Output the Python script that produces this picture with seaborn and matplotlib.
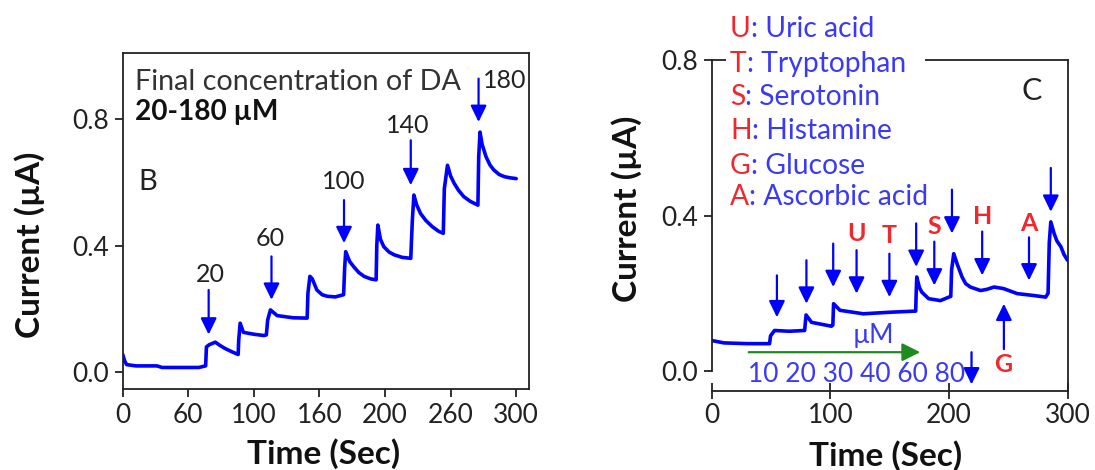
import matplotlib
matplotlib.use("Agg")
import matplotlib.pyplot as plt
from matplotlib.patches import Rectangle
import pandas as pd
import seaborn as sns

# ---- Panel B: dopamine additions (20-180 uM) ----
time_b = [0, 1.5, 3, 10, 26, 30, 58, 63.2, 63.8, 66, 70.6, 74, 78, 83, 88.0, 88.4,
          89.5, 92, 100, 107.5, 109.5, 110.5, 112.6, 117.7, 130, 140.6, 141.2, 142.7,
          144.5, 148, 152, 156, 162, 168.4, 169.2, 170, 173, 176, 180, 184, 189,
          193.2, 193.7, 194.5, 196.5, 199, 203, 207, 213, 219.6, 220.8, 222, 224,
          227, 231, 236, 241, 244.4, 245.2, 247.6, 250, 252.7, 256, 260, 265, 270.8,
          271.4, 272.4, 274, 277, 280, 283, 287, 291, 296, 300]
current_b = [0.056, 0.035, 0.024, 0.020, 0.020, 0.015, 0.015, 0.020, 0.080, 0.087,
             0.095, 0.085, 0.075, 0.065, 0.056, 0.100, 0.155, 0.126, 0.120, 0.116,
             0.118, 0.165, 0.197, 0.179, 0.172, 0.171, 0.250, 0.303, 0.295, 0.260,
             0.245, 0.240, 0.238, 0.245, 0.330, 0.381, 0.350, 0.334, 0.315, 0.303,
             0.295, 0.292, 0.400, 0.465, 0.420, 0.397, 0.380, 0.371, 0.363, 0.360,
             0.480, 0.560, 0.530, 0.502, 0.480, 0.460, 0.445, 0.439, 0.580, 0.654,
             0.620, 0.597, 0.575, 0.555, 0.540, 0.528, 0.680, 0.759, 0.720, 0.681,
             0.655, 0.639, 0.625, 0.618, 0.614, 0.612]
arrow_b_labels = ["20", "60", "100", "140", "180"]
arrow_b_x = [65.5, 113.4, 168.7, 219.6, 271.3]
arrow_b_top = [0.260, 0.366, 0.544, 0.733, 0.928]
arrow_b_tip = [0.119, 0.229, 0.408, 0.591, 0.791]
arrow_b_label_x = [66.8, 112.6, 168.7, 217.6, 291.0]
arrow_b_label_y = [0.308, 0.423, 0.602, 0.780, 0.922]
ticks_b = [0, 50, 100, 150, 200, 250, 300]
tick_labels_b = ["0", "60", "100", "160", "200", "260", "300"]

# ---- Panel C: selectivity test with interferents ----
time_c = [0, 10, 30, 48.6, 49.4, 52.8, 65, 78.2, 78.8, 79.4, 84, 100.8, 102.0, 102.6,
          108, 127.7, 150, 171.9, 172.3, 172.8, 175, 177, 182.8, 192.7, 201.5, 202.2,
          204, 206.8, 211, 214, 218, 226.6, 232, 237.9, 246, 257.6, 271.8, 281.6,
          283.6, 284.6, 285.9, 288.7, 291, 294.4, 297, 300]
current_c = [0.078, 0.072, 0.070, 0.070, 0.090, 0.104, 0.102, 0.104, 0.125, 0.144,
             0.125, 0.115, 0.118, 0.173, 0.156, 0.147, 0.151, 0.154, 0.200, 0.242,
             0.215, 0.203, 0.186, 0.181, 0.192, 0.260, 0.302, 0.276, 0.242, 0.225,
             0.216, 0.207, 0.210, 0.216, 0.212, 0.199, 0.194, 0.190, 0.200, 0.330,
             0.384, 0.354, 0.335, 0.320, 0.300, 0.285]
arrow_c_x = [54.8, 79.7, 102.3, 122.0, 149.7, 172.3, 187.6, 202.5, 228.0, 267.5, 285.9, 219.0, 246.3]
arrow_c_start = [0.246, 0.285, 0.328, 0.311, 0.302, 0.380, 0.333, 0.467, 0.359, 0.344, 0.523, 0.048, 0.056]
arrow_c_tip = [0.138, 0.173, 0.216, 0.199, 0.190, 0.268, 0.220, 0.354, 0.246, 0.233, 0.410, -0.035, 0.173]
species_letters = ["U", "T", "S", "H", "A", "G"]
species_x = [122.0, 149.7, 187.6, 228.0, 267.5, 245.5]
species_y = [0.354, 0.350, 0.373, 0.397, 0.380, 0.017]
legend_letters = ["U", "T", "S", "H", "G", "A"]
legend_names = [": Uric acid", ": Tryptophan", ": Serotonin", ": Histamine",
                ": Glucose", ": Ascorbic acid"]
legend_y = [0.882, 0.791, 0.705, 0.619, 0.529, 0.447]
conc_steps = "10 20 30 40 60 80"

BLUE = "#0000ff"
TEXT_BLUE = "#3a3af5"
RED = "#f0282d"
GREEN = "#1f8a1f"

sns.set_theme(style="ticks")
plt.rcParams["font.family"] = ["Lato", "DejaVu Sans"]
plt.rcParams["axes.linewidth"] = 1.3
plt.rcParams["axes.edgecolor"] = "#222222"

fig = plt.figure(figsize=(10.95, 4.7), dpi=100)
ax_b = fig.add_axes([0.1121, 0.1717, 0.3713, 0.7149])
ax_c = fig.add_axes([0.6502, 0.1681, 0.3247, 0.7032])

tick_fs = 19
label_fs = 24


def down_arrow(ax, x, y0, y1, color=BLUE):
    ax.annotate("", xy=(x, y1), xytext=(x, y0),
                arrowprops=dict(arrowstyle="-|>,head_length=0.45,head_width=0.22",
                                color=color, lw=1.6, mutation_scale=22,
                                shrinkA=0, shrinkB=0),
                annotation_clip=False)


# ---- Panel B ----
df_b = pd.DataFrame({"Time": time_b, "Current": current_b})
sns.lineplot(data=df_b, x="Time", y="Current", ax=ax_b, color=BLUE, lw=2.6,
             estimator=None, sort=False)
ax_b.set_xlim(0, 310)
ax_b.set_ylim(-0.054, 1.008)
ax_b.set_xticks(ticks_b)
ax_b.set_xticklabels(tick_labels_b)
ax_b.set_yticks([0.0, 0.4, 0.8])
ax_b.set_yticklabels(["0.0", "0.4", "0.8"])
ax_b.tick_params(direction="out", length=6, width=1.3, labelsize=tick_fs,
                 colors="#222222", pad=4)
for s in ax_b.spines.values():
    s.set_visible(True)

for lab, x, y0, y1, lx, ly in zip(arrow_b_labels, arrow_b_x, arrow_b_top, arrow_b_tip,
                                   arrow_b_label_x, arrow_b_label_y):
    down_arrow(ax_b, x, y0, y1)
    ax_b.text(lx, ly, lab, ha="center", va="center", fontsize=18, color="#222222")

ax_b.text(9.4, 0.917, "Final concentration of DA", ha="left", va="center",
          fontsize=20.7, color="#333333")
ax_b.text(9.4, 0.822, "20-180 µM", ha="left", va="center", fontsize=20.2,
          fontweight="bold", color="#111111")
ax_b.text(19, 0.60, "B", ha="center", va="center", fontsize=21, color="#222222")

ax_b.set_xlabel("Time (Sec)", fontsize=label_fs, fontweight="bold", color="#111111")
ax_b.set_ylabel("Current (µA)", fontsize=label_fs, fontweight="bold", color="#111111")
ax_b.xaxis.set_label_coords(0.493, -0.19)
ax_b.yaxis.set_label_coords(-0.230, 0.43)
ax_b.xaxis.label.set_va("center")
ax_b.yaxis.label.set_va("center")

# ---- Panel C ----
df_c = pd.DataFrame({"Time": time_c, "Current": current_c})
sns.lineplot(data=df_c, x="Time", y="Current", ax=ax_c, color=BLUE, lw=2.6,
             estimator=None, sort=False)
ax_c.set_xlim(0, 300)
ax_c.set_ylim(-0.052, 0.8)
ax_c.set_xticks([0, 100, 200, 300])
ax_c.set_yticks([0.0, 0.4, 0.8])
ax_c.set_yticklabels(["0.0", "0.4", "0.8"])
for s in ax_c.spines.values():
    s.set_visible(True)
ax_c.spines["left"].set_bounds(0.0, 0.8)
ax_c.tick_params(axis="y", direction="out", length=6, width=1.3, labelsize=tick_fs,
                 colors="#222222", pad=4)
ax_c.tick_params(axis="x", direction="inout", length=11, width=1.3, labelsize=tick_fs,
                 colors="#222222", pad=3)

for x, y0, y1 in zip(arrow_c_x[:11], arrow_c_start[:11], arrow_c_tip[:11]):
    down_arrow(ax_c, x, y0, y1)
# short arrow beside the concentration series and the upward glucose arrow
down_arrow(ax_c, arrow_c_x[11], arrow_c_start[11], arrow_c_tip[11])
down_arrow(ax_c, arrow_c_x[12], arrow_c_start[12], arrow_c_tip[12])

for lab, x, y in zip(species_letters, species_x, species_y):
    ax_c.text(x, y, lab, ha="center", va="center", fontsize=18, fontweight="bold",
              color=RED)

# concentration sequence with green arrow
ax_c.annotate("", xy=(175.7, 0.048), xytext=(31, 0.048),
              arrowprops=dict(arrowstyle="-|>,head_length=0.5,head_width=0.25",
                              color=GREEN, lw=1.6, mutation_scale=22,
                              shrinkA=0, shrinkB=0))
ax_c.text(136, 0.091, "µM", ha="center", va="center", fontsize=19, color=TEXT_BLUE)
ax_c.text(30.2, -0.009, conc_steps, ha="left", va="center", fontsize=19,
          color=TEXT_BLUE)
ax_c.text(0.90, 0.908, "C", transform=ax_c.transAxes, ha="center", va="center",
          fontsize=22, color="#222222")

# key of interferents (white block hides the top spine behind it)
ax_c.add_patch(Rectangle((11.5, 0.75), 168, 0.08, facecolor="white",
                         edgecolor="none", zorder=3, clip_on=False))
for letter, name, y in zip(legend_letters, legend_names, legend_y):
    t = ax_c.text(15.2, y, letter, ha="left", va="center", fontsize=20.3,
                  color=RED, zorder=4, clip_on=False)
    ax_c.annotate(name, xy=(1, 0), xycoords=t, ha="left", va="bottom",
                  fontsize=20.3, color=TEXT_BLUE, zorder=4, annotation_clip=False)

ax_c.set_xlabel("Time (Sec)", fontsize=label_fs, fontweight="bold", color="#111111")
ax_c.set_ylabel("Current (µA)", fontsize=label_fs, fontweight="bold", color="#111111")
ax_c.xaxis.set_label_coords(0.487, -0.194)
ax_c.yaxis.set_label_coords(-0.239, 0.552)
ax_c.xaxis.label.set_va("center")
ax_c.yaxis.label.set_va("center")

fig.savefig("out.png", dpi=100, facecolor="white")
